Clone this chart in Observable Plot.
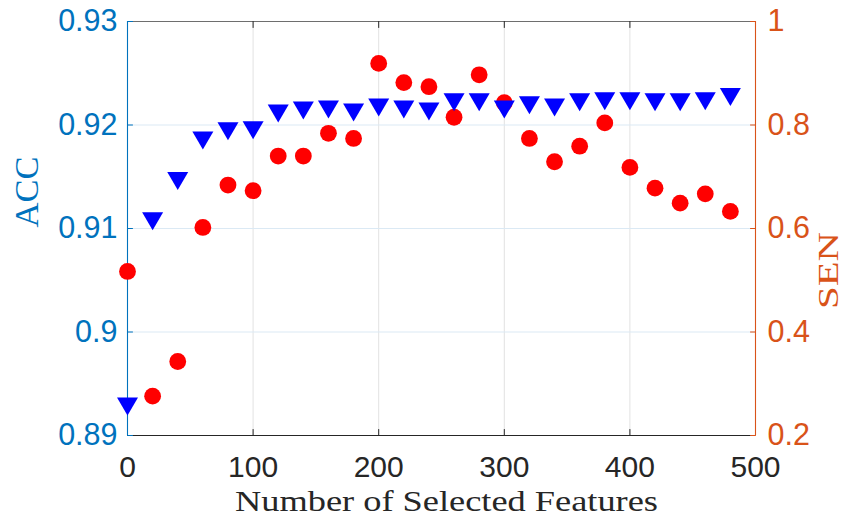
<!DOCTYPE html>
<html>
<head>
<meta charset="utf-8">
<script src="https://cdn.jsdelivr.net/npm/d3@7"></script>
<script src="https://cdn.jsdelivr.net/npm/@observablehq/plot@0.6"></script>
<style>
  html, body { margin: 0; padding: 0; background: #ffffff; }
  #chart { width: 845px; height: 517px; }
</style>
</head>
<body>
<div id="chart"></div>
<script>
// ---- data ----
const features = [0, 20, 40, 60, 80, 100, 120, 140, 160, 180, 200, 220, 240, 260, 280, 300, 320, 340, 360, 380, 400, 420, 440, 460, 480];
const accValues = [0.8928, 0.9107, 0.9146, 0.9185, 0.9194, 0.9195, 0.9211, 0.9214, 0.9215, 0.9212, 0.9217, 0.9215, 0.9213, 0.9222, 0.9222, 0.9215, 0.9219, 0.9217, 0.9222, 0.9223, 0.9223, 0.9222, 0.9222, 0.9223, 0.9227];
const senValues = [0.517, 0.276, 0.343, 0.602, 0.684, 0.673, 0.740, 0.740, 0.784, 0.774, 0.919, 0.882, 0.874, 0.815, 0.897, 0.843, 0.774, 0.729, 0.759, 0.804, 0.718, 0.678, 0.649, 0.667, 0.633];
const xTicks = [0, 100, 200, 300, 400, 500];
const accTicks = [0.89, 0.90, 0.91, 0.92, 0.93];
const senTicks = [0.2, 0.4, 0.6, 0.8, 1.0];
const xLabel = "Number of Selected Features";
const accLabel = "ACC";
const senLabel = "SEN";

// ---- styles ----
const BLUE_AX = "#0072BD";
const ORANGE_AX = "#D95319";
const DARK = "#262626";
const SERIF = "Liberation Serif, Times New Roman, serif";
const accDomain = [0.89, 0.93];
const senDomain = [0.2, 1.0];
const toAcc = d3.scaleLinear().domain(senDomain).range(accDomain);

const rows = features.map((f, i) => ({f, acc: accValues[i], sen: senValues[i]}));

const triDown = {
  draw(ctx, size) {
    const r = Math.sqrt(size / Math.PI);
    ctx.moveTo(-1.05 * r, -0.9 * r);
    ctx.lineTo(1.05 * r, -0.9 * r);
    ctx.lineTo(0, 0.9 * r);
    ctx.closePath();
  }
};
const tickShape = {
  draw(ctx, l) { ctx.moveTo(0, 0); ctx.lineTo(0, -l); }
};

const innerX = xTicks.filter(d => d > 0 && d < 500);

const chart = Plot.plot({
  width: 845,
  height: 517,
  marginLeft: 127,
  marginRight: 90,
  marginTop: 21,
  marginBottom: 82,
  style: {fontFamily: "Liberation Sans, Arial, sans-serif", background: "#ffffff", overflow: "visible"},
  x: {domain: [0, 500]},
  y: {domain: accDomain},
  marks: [
    Plot.gridX(innerX, {stroke: "#e2e2e2", strokeOpacity: 1, strokeWidth: 1}),
    Plot.gridY(accTicks.filter((d, i) => i > 0 && i < accTicks.length - 1), {stroke: "#dbe9f4", strokeOpacity: 1, strokeWidth: 1}),
    // frame
    Plot.ruleY([accDomain[1]], {stroke: "#6e6e6e", strokeWidth: 1.1}),
    Plot.ruleY([accDomain[0]], {stroke: DARK, strokeWidth: 1.1}),
    Plot.ruleX([0], {stroke: BLUE_AX, strokeWidth: 1.1}),
    Plot.ruleX([500], {stroke: ORANGE_AX, strokeWidth: 1.1}),
    // inward ticks
    Plot.vector(innerX, {x: d => d, frameAnchor: "bottom", rotate: 0, length: 6, anchor: "start", shape: tickShape, stroke: DARK, strokeWidth: 1}),
    Plot.vector(innerX, {x: d => d, frameAnchor: "top", rotate: 180, length: 6, anchor: "start", shape: tickShape, stroke: DARK, strokeWidth: 1}),
    Plot.vector(accTicks, {y: d => d, frameAnchor: "left", rotate: 90, length: 5, anchor: "start", shape: tickShape, stroke: BLUE_AX, strokeWidth: 1}),
    Plot.vector(senTicks, {y: d => toAcc(d), frameAnchor: "right", rotate: -90, length: 5, anchor: "start", shape: tickShape, stroke: ORANGE_AX, strokeWidth: 1}),
    // tick labels
    Plot.axisX(xTicks, {tickSize: 0, tickPadding: 20, fontSize: 30, color: DARK, label: null}),
    Plot.axisY(accTicks, {anchor: "left", tickSize: 0, tickPadding: 10, fontSize: 30.5, color: BLUE_AX, label: null, tickFormat: d => d3.format(".2~f")(d)}),
    Plot.axisY(senTicks.map(d => toAcc(d)), {anchor: "right", tickSize: 0, tickPadding: 12, fontSize: 30.5, color: ORANGE_AX, label: null, tickFormat: d => d3.format(".1~f")(toAcc.invert(d))}),
    // data
    Plot.dot(rows, {x: "f", y: d => toAcc(d.sen), r: 8.4, fill: "#ff0000", stroke: "none"}),
    Plot.dot(rows, {x: "f", y: "acc", r: 10, symbol: triDown, fill: "#0000ff", stroke: "none"}),
    // titles
    Plot.text([xLabel], {text: d => d, frameAnchor: "bottom", dy: 65.5, dx: 5, fontSize: 30, fontFamily: SERIF, fill: DARK, lineAnchor: "middle"}),
    Plot.text([accLabel], {text: d => d, frameAnchor: "left", dx: -100, dy: -1, rotate: -90, fontSize: 34, fontFamily: SERIF, fill: BLUE_AX, lineAnchor: "middle"}),
    Plot.text([senLabel], {text: d => d, frameAnchor: "right", dx: 73, dy: 3.5, rotate: -90, fontSize: 30, fontFamily: SERIF, fill: ORANGE_AX, lineAnchor: "middle"})
  ]
});

const svg = d3.select(chart);
const stretch = {[xLabel]: 423, [accLabel]: 71, [senLabel]: 77};
svg.selectAll("text").each(function () {
  const t = this.textContent;
  if (Object.prototype.hasOwnProperty.call(stretch, t)) {
    this.setAttribute("textLength", stretch[t]);
    this.setAttribute("lengthAdjust", "spacingAndGlyphs");
  }
});

document.getElementById("chart").appendChild(chart);
</script>
</body>
</html>
